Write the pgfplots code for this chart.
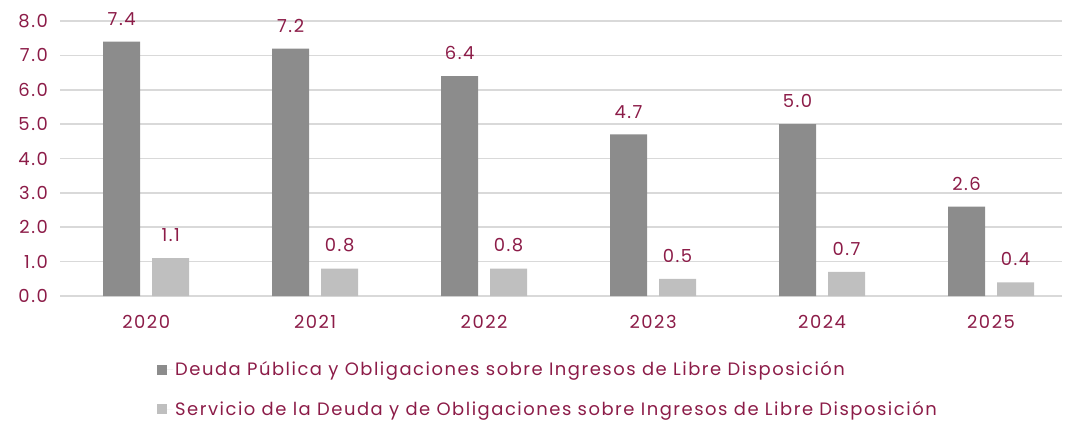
\documentclass[border=0pt]{standalone}
\usepackage{pgfplots}
\pgfplotsset{compat=1.18}
\usepackage{fontspec}
\setmainfont{Poppins}[LetterSpace=8.5]
\definecolor{txt}{RGB}{140,28,72}
\definecolor{darkbar}{RGB}{140,140,140}
\definecolor{lightbar}{RGB}{191,191,191}
\definecolor{gridc}{RGB}{217,217,217}
\begin{document}
\fontsize{18}{21}\selectfont
\begin{tikzpicture}[x=1bp,y=1bp]
\path[use as bounding box] (-60bp,-130bp) rectangle (1009bp,296bp);
\begin{axis}[
  at={(0,0)}, anchor=south west,
  scale only axis,
  width=1002bp, height=275bp,
  ybar=12bp, bar width=37bp,
  xmin=-0.51, xmax=5.42,
  ymin=0, ymax=8,
  ytick={0,1,...,8},
  xtick=data,
  xticklabels={2020,2021,2022,2023,2024,2025},
  axis line style={draw=none},
  major tick length=0pt,
  ymajorgrids, grid style={gridc, line width=1.6bp},
  /pgf/number format/assume math mode=true,
  yticklabel style={/pgf/number format/fixed, /pgf/number format/fixed zerofill, /pgf/number format/precision=1, text=txt, xshift=-6bp},
  xticklabel style={text=txt, yshift=-13bp},
  nodes near coords,
  nodes near coords style={text=txt, /pgf/number format/fixed, /pgf/number format/fixed zerofill, /pgf/number format/precision=1, yshift=10bp},
  legend style={at={(0.487,-0.229)}, anchor=north, draw=none, fill=none, text=txt, row sep=19bp, legend cell align=left, inner sep=0pt},
  legend image code/.code={\fill[#1] (0bp,-5bp) rectangle (10bp,5bp); \path (10bp,0bp) -- (16bp,0bp);},
  clip=false,
]
\addplot[fill=darkbar, draw=none] coordinates {(0,7.4) (1,7.2) (2,6.4) (3,4.7) (4,5.0) (5,2.6)};
\addplot[fill=lightbar, draw=none] coordinates {(0,1.1) (1,0.8) (2,0.8) (3,0.5) (4,0.7) (5,0.4)};
\legend{Deuda Pública y Obligaciones sobre Ingresos de Libre Disposición, Servicio de la Deuda y de Obligaciones sobre Ingresos de Libre Disposición}
\end{axis}
\end{tikzpicture}
\end{document}
